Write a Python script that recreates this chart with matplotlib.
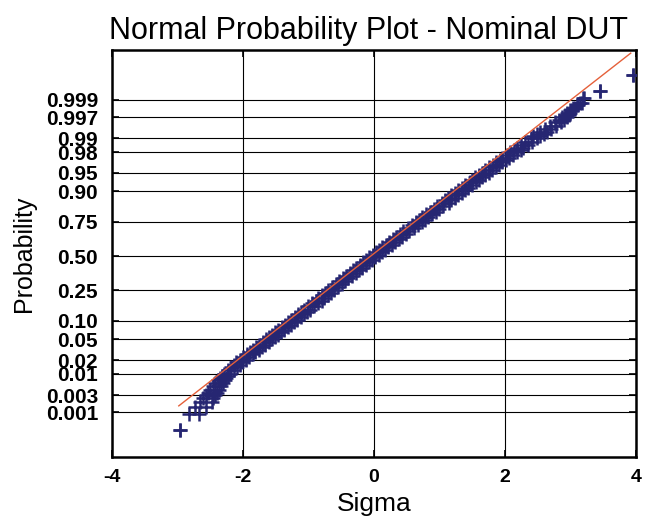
import numpy as np
import matplotlib
matplotlib.use('Agg')
import matplotlib.pyplot as plt
from statistics import NormalDist

# plotting probabilities shared by the overlaid samples
prob = [
    0.0003, 0.0009, 0.0014, 0.002, 0.0025, 0.003, 0.0035, 0.004, 0.005, 0.006,
    0.007, 0.008, 0.009, 0.010, 0.012, 0.014, 0.016, 0.018, 0.020, 0.023,
    0.026, 0.029, 0.032, 0.036, 0.040, 0.045, 0.050, 0.055, 0.060, 0.066,
    0.072, 0.080, 0.088, 0.096, 0.105, 0.115, 0.125, 0.135, 0.145, 0.160,
    0.175, 0.190, 0.205, 0.220, 0.235, 0.250, 0.270, 0.290, 0.310, 0.330,
    0.350, 0.370, 0.390, 0.410, 0.430, 0.450, 0.470, 0.490,
    0.510, 0.530, 0.550, 0.570, 0.590, 0.610, 0.630, 0.650, 0.670, 0.690,
    0.710, 0.730, 0.750, 0.765, 0.780, 0.795, 0.810, 0.825, 0.840, 0.855,
    0.865, 0.875, 0.885, 0.895, 0.904, 0.912, 0.920, 0.928, 0.934, 0.940,
    0.945, 0.950, 0.955, 0.960, 0.964, 0.968, 0.971, 0.974, 0.977, 0.980,
    0.982, 0.984, 0.986, 0.988, 0.990, 0.991, 0.992, 0.993, 0.994, 0.995,
    0.996, 0.9965, 0.9970, 0.99737, 0.9977, 0.9980, 0.9983, 0.99856, 0.99878, 0.9991,
    0.99944, 0.99983,
]

# sorted sample values (in sigma), two overlaid runs
sigma_a = [
    -2.96, -2.82, -2.74, -2.66, -2.61, -2.57, -2.54, -2.50, -2.46, -2.42,
    -2.38, -2.35, -2.32, -2.29, -2.23, -2.18, -2.13, -2.10, -2.05, -2.00,
    -1.94, -1.90, -1.85, -1.80, -1.75, -1.70, -1.65, -1.60, -1.56, -1.51,
    -1.47, -1.41, -1.36, -1.31, -1.26, -1.21, -1.16, -1.11, -1.07, -1.00,
    -0.95, -0.89, -0.85, -0.79, -0.75, -0.70, -0.64, -0.58, -0.53, -0.48,
    -0.42, -0.37, -0.32, -0.27, -0.21, -0.17, -0.12, -0.07,
    -0.02, 0.03, 0.08, 0.13, 0.18, 0.23, 0.29, 0.34, 0.40, 0.45,
    0.52, 0.58, 0.64, 0.69, 0.73, 0.80, 0.85, 0.91, 0.96, 1.04,
    1.08, 1.13, 1.18, 1.24, 1.29, 1.34, 1.39, 1.46, 1.50, 1.55,
    1.60, 1.65, 1.70, 1.76, 1.81, 1.86, 1.92, 1.96, 2.03, 2.08,
    2.14, 2.18, 2.25, 2.31, 2.39, 2.43, 2.49, 2.54, 2.61, 2.68,
    2.77, 2.82, 2.87, 2.91, 2.95, 2.99, 3.04, 3.10, 3.15, 3.19,
    3.45, 3.95,
]
sigma_b = [
    -2.96, -2.67, -2.56, -2.48, -2.45, -2.42, -2.40, -2.37, -2.34, -2.31,
    -2.28, -2.26, -2.23, -2.20, -2.14, -2.09, -2.04, -2.01, -1.96, -1.91,
    -1.85, -1.81, -1.76, -1.71, -1.66, -1.61, -1.56, -1.51, -1.47, -1.42,
    -1.38, -1.32, -1.27, -1.22, -1.17, -1.12, -1.07, -1.02, -0.98, -0.91,
    -0.86, -0.80, -0.76, -0.70, -0.66, -0.61, -0.55, -0.49, -0.44, -0.39,
    -0.33, -0.28, -0.23, -0.18, -0.12, -0.08, -0.03, 0.02,
    0.07, 0.12, 0.17, 0.22, 0.27, 0.32, 0.38, 0.43, 0.49, 0.54,
    0.61, 0.67, 0.73, 0.78, 0.82, 0.89, 0.94, 1.00, 1.05, 1.14,
    1.18, 1.23, 1.28, 1.34, 1.39, 1.44, 1.49, 1.56, 1.60, 1.65,
    1.70, 1.75, 1.80, 1.86, 1.91, 1.96, 2.02, 2.06, 2.13, 2.18,
    2.24, 2.28, 2.35, 2.41, 2.49, 2.53, 2.59, 2.64, 2.71, 2.78,
    2.86, 2.90, 2.94, 2.97, 3.00, 3.03, 3.07, 3.12, 3.17, 3.21,
    3.45, 3.95,
]

# fitted normal reference line
fit_mu = -0.05
fit_sd = 0.99
line_sigma = [-2.98, 3.92]

prob_ticks = [0.001, 0.003, 0.01, 0.02, 0.05, 0.10, 0.25, 0.50,
              0.75, 0.90, 0.95, 0.98, 0.99, 0.997, 0.999]
prob_labels = ['0.001', '0.003', '0.01', '0.02', '0.05', '0.10', '0.25', '0.50',
               '0.75', '0.90', '0.95', '0.98', '0.99', '0.997', '0.999']
sigma_ticks = [-4, -2, 0, 2, 4]

nd = NormalDist()
_ppf = np.vectorize(lambda p: nd.inv_cdf(min(max(p, 1e-12), 1 - 1e-12)), otypes=[float])
_cdf = np.vectorize(nd.cdf, otypes=[float])


def forward(p):
    return _ppf(np.asarray(p, dtype=float))


def inverse(z):
    return _cdf(np.asarray(z, dtype=float))


plt.rcParams['font.family'] = ['Liberation Sans', 'DejaVu Sans']

fig = plt.figure(figsize=(6.45, 5.23), dpi=100)
ax = fig.add_axes([0.1736, 0.1262, 0.8124, 0.778])
ax.set_yscale('function', functions=(forward, inverse))

for run in (sigma_a, sigma_b):
    ax.plot(run, prob, linestyle='none', marker='+', markersize=10.5,
            markeredgewidth=1.8, color='#262672', zorder=3)

line_prob = inverse((np.array(line_sigma) - fit_mu) / fit_sd)
ax.plot(line_sigma, line_prob, color='#e5603a', linewidth=1.0, zorder=4)

ax.set_xlim(-4, 4)
ax.set_ylim(nd.cdf(-3.97), nd.cdf(4.07))
ax.set_xticks(sigma_ticks)
ax.set_xticklabels([str(t) for t in sigma_ticks], fontweight='bold', fontsize=14)
ax.set_yticks(prob_ticks)
ax.set_yticklabels(prob_labels, fontweight='bold', fontsize=15)
ax.minorticks_off()

ax.grid(True, color='black', linewidth=0.8)
ax.tick_params(direction='in', length=5, width=1.2, top=True, right=True)
ax.tick_params(axis='y', pad=10)
ax.tick_params(axis='x', pad=9)
for s in ax.spines.values():
    s.set_linewidth(1.8)

ax.set_title('Normal Probability Plot - Nominal DUT', fontsize=22, pad=8, x=0.49)
ax.set_xlabel('Sigma', fontsize=19, labelpad=4)
ax.set_ylabel('Probability', fontsize=18, labelpad=7)

fig.savefig('out.png', dpi=100)
